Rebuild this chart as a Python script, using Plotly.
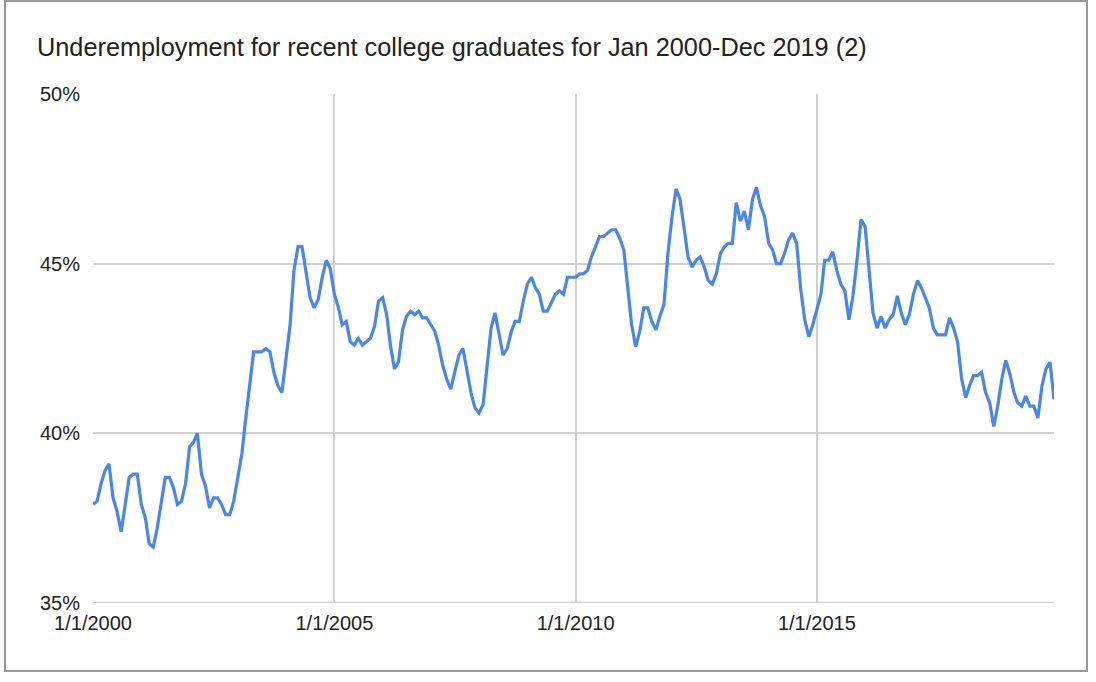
import pandas as pd
import plotly.graph_objects as go

# ── Data (monthly, Jan 2000 – Dec 2019) ─────────────────────────────────────
START = "2000-01-01"
rate = [
    37.9, 38.0, 38.5, 38.9, 39.1, 38.1, 37.7, 37.1, 37.9, 38.7, 38.8, 38.8,   # 2000
    37.9, 37.5, 36.75, 36.65, 37.2, 37.9, 38.7, 38.7, 38.4, 37.9, 38.0, 38.5,  # 2001
    39.6, 39.75, 40.0, 38.8, 38.45, 37.8, 38.1, 38.1, 37.9, 37.6, 37.6, 38.0,  # 2002
    38.75, 39.4, 40.4, 41.5, 42.4, 42.4, 42.4, 42.5, 42.4, 41.8, 41.4, 41.2,   # 2003
    42.2, 43.2, 44.8, 45.5, 45.5, 44.8, 44.0, 43.7, 43.95, 44.6, 45.1, 44.85,  # 2004
    44.1, 43.7, 43.2, 43.3, 42.7, 42.6, 42.8, 42.6, 42.7, 42.8, 43.15, 43.9,   # 2005
    44.0, 43.5, 42.6, 41.9, 42.1, 43.05, 43.45, 43.6, 43.5, 43.6, 43.4, 43.4,  # 2006
    43.2, 43.0, 42.6, 42.0, 41.6, 41.3, 41.8, 42.3, 42.5, 41.9, 41.2, 40.75,   # 2007
    40.6, 40.85, 42.0, 43.1, 43.55, 42.9, 42.3, 42.5, 43.0, 43.3, 43.3, 43.9,  # 2008
    44.4, 44.6, 44.3, 44.1, 43.6, 43.6, 43.85, 44.1, 44.2, 44.1, 44.6, 44.6,   # 2009
    44.6, 44.7, 44.7, 44.8, 45.2, 45.5, 45.8, 45.8, 45.9, 46.0, 46.0, 45.75,   # 2010
    45.4, 44.3, 43.2, 42.55, 43.0, 43.7, 43.7, 43.3, 43.05, 43.45, 43.8, 45.3, # 2011
    46.4, 47.2, 46.9, 46.05, 45.2, 44.9, 45.1, 45.2, 44.9, 44.5, 44.4, 44.7,   # 2012
    45.3, 45.5, 45.6, 45.6, 46.8, 46.25, 46.55, 46.0, 46.9, 47.25, 46.7, 46.4, # 2013
    45.6, 45.4, 45.0, 45.0, 45.3, 45.7, 45.9, 45.6, 44.25, 43.35, 42.85, 43.2, # 2014
    43.65, 44.1, 45.1, 45.1, 45.35, 44.8, 44.4, 44.2, 43.35, 44.05, 45.1, 46.3, # 2015
    46.1, 44.8, 43.55, 43.1, 43.45, 43.1, 43.35, 43.5, 44.05, 43.55, 43.2, 43.5, # 2016
    44.1, 44.5, 44.3, 44.0, 43.7, 43.1, 42.9, 42.9, 42.9, 43.4, 43.1, 42.7,    # 2017
    41.6, 41.05, 41.4, 41.7, 41.7, 41.8, 41.2, 40.9, 40.2, 40.8, 41.6, 42.15,  # 2018
    41.75, 41.2, 40.9, 40.8, 41.1, 40.8, 40.8, 40.45, 41.4, 41.9, 42.1, 41.0,  # 2019
]
dates = pd.date_range(START, periods=len(rate), freq="MS")

TITLE = "Underemployment for recent college graduates for Jan 2000-Dec 2019 (2)"
Y_TICKS = [35, 40, 45, 50]

# ── Style ────────────────────────────────────────────────────────────────────
BLUE = "#4A86E8"
GRID = "#D0D0D0"
BORDER = "#9A9A9A"
TEXT = "#222222"
FONT = "Liberation Sans, Arial, sans-serif"

W, H = 1096, 682
L, R, T, B = 93, 42, 94, 79
pw, ph = W - L - R, H - T - B


def px_x(x):
    return (x - L) / pw


def px_y(y):
    return (H - B - y) / ph


fig = go.Figure(go.Scatter(
    x=dates, y=rate,
    mode="lines",
    line=dict(color=BLUE, width=3.2),
    hovertemplate="%{x|%-m/%-d/%Y}: %{y}%<extra></extra>",
))

fig.update_layout(
    width=W, height=H,
    margin=dict(l=L, r=R, t=T, b=B),
    paper_bgcolor="white",
    plot_bgcolor="white",
    font=dict(family=FONT, color=TEXT, size=20),
    showlegend=False,
    title=dict(text=TITLE, x=37 / W, xanchor="left", y=1 - 47 / H, yanchor="middle",
               font=dict(size=25.3, color=TEXT)),
    xaxis=dict(
        type="date",
        range=[dates[0], dates[-1]],
        tick0=START, dtick="M60",
        tickformat="%-m/%-d/%Y",
        showgrid=True, gridcolor=GRID, gridwidth=1.5,
        zeroline=False, showline=False, ticks="",
        ticklabelstandoff=6,
        tickfont=dict(size=20, color=TEXT),
    ),
    yaxis=dict(
        range=[35, 50],
        tickvals=Y_TICKS,
        ticktext=[f"{v}%" for v in Y_TICKS],
        showgrid=True, gridcolor=GRID, gridwidth=1.5,
        zeroline=False, showline=False, ticks="",
        ticklabelstandoff=12,
        tickfont=dict(size=20, color=TEXT),
    ),
    shapes=[
        # heavier baseline at 35%
        dict(type="line", xref="paper", yref="y", x0=0, x1=1, y0=35, y1=35,
             line=dict(color=GRID, width=2.5), layer="below"),
        # outer chart border
        dict(type="rect", xref="paper", yref="paper",
             x0=px_x(5), x1=px_x(1087), y0=px_y(1), y1=px_y(671),
             line=dict(color=BORDER, width=2)),
    ],
)

fig.write_html("out.html", config={"displayModeBar": False},
               post_script="document.body.style.margin='0';")
